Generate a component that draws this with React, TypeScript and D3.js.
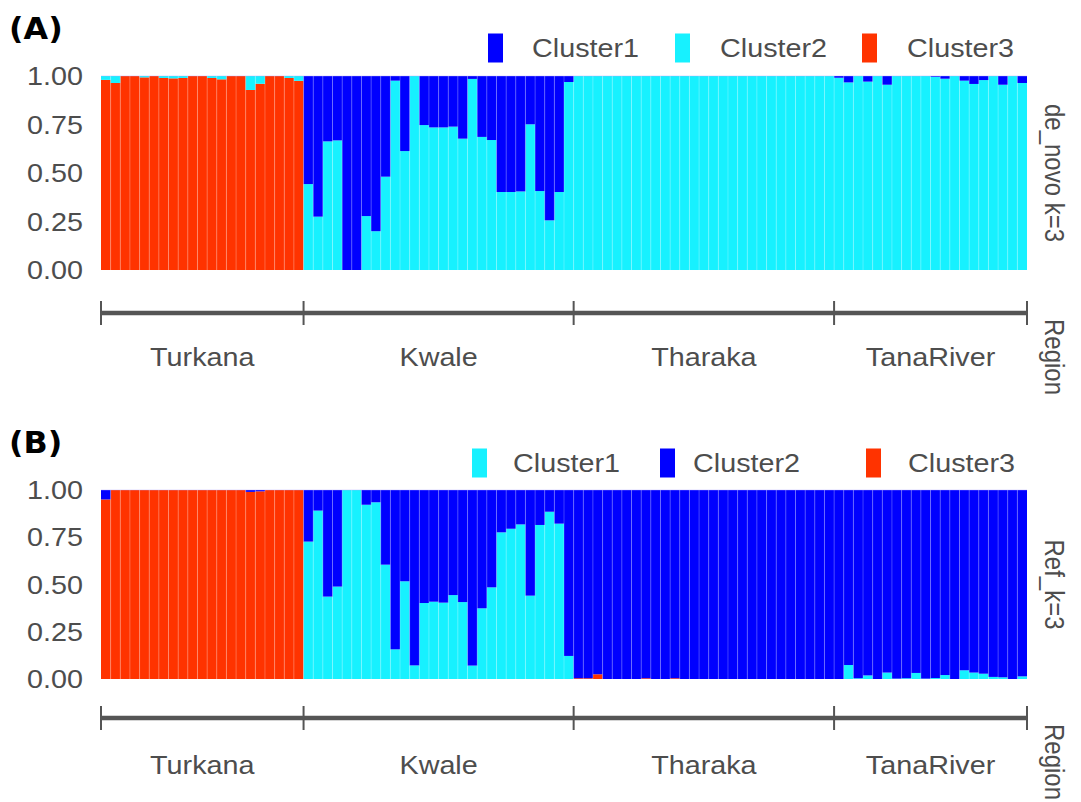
import React from "react";
import * as d3 from "d3";

// ---------- DATA ----------
const regions = ["Turkana", "Kwale", "Tharaka", "TanaRiver"];
const regionSizes = [21, 28, 27, 20];

// Panel A (de_novo k=3): Cluster1 = blue, Cluster2 = cyan, Cluster3 = red
const deNovoCluster1 = [
  // Turkana
  0, 0, 0, 0, 0, 0, 0, 0, 0, 0, 0, 0, 0, 0, 0, 0, 0, 0, 0, 0, 0,
  // Kwale
  0.557, 0.725, 0.337, 0.332, 1, 1, 0.722, 0.8, 0.519, 0.024, 0.387, 0, 0.253, 0.265,
  0.265, 0.261, 0.323, 0.015, 0.314, 0.33, 0.598, 0.598, 0.595, 0.249, 0.593, 0.744, 0.598, 0.031,
  // Tharaka
  0, 0, 0, 0, 0, 0, 0, 0, 0, 0, 0, 0, 0, 0, 0, 0, 0, 0, 0, 0, 0, 0, 0, 0, 0, 0, 0,
  // TanaRiver
  0.009, 0.033, 0, 0.029, 0, 0.045, 0, 0, 0, 0, 0.004, 0.014, 0, 0.024, 0.041, 0.021, 0, 0.045, 0, 0.036,
];
const deNovoCluster2 = [
  0.02, 0.036, 0, 0, 0.007, 0, 0.01, 0.012, 0.01, 0, 0, 0.01, 0.017, 0, 0, 0.072, 0.04, 0, 0, 0.01, 0.025,
  0.443, 0.275, 0.663, 0.668, 0, 0, 0.278, 0.2, 0.481, 0.976, 0.613, 1, 0.747, 0.735,
  0.735, 0.739, 0.677, 0.985, 0.686, 0.67, 0.402, 0.402, 0.405, 0.751, 0.407, 0.256, 0.402, 0.969,
  1, 1, 1, 1, 1, 1, 1, 1, 1, 1, 1, 1, 1, 1, 1, 1, 1, 1, 1, 1, 1, 1, 1, 1, 1, 1, 1,
  0.991, 0.967, 1, 0.971, 1, 0.955, 1, 1, 1, 1, 0.996, 0.986, 1, 0.976, 0.959, 0.979, 1, 0.955, 1, 0.964,
];
const deNovoCluster3 = [
  0.98, 0.964, 1, 1, 0.993, 1, 0.99, 0.988, 0.99, 1, 1, 0.99, 0.983, 1, 1, 0.928, 0.96, 1, 1, 0.99, 0.975,
  0, 0, 0, 0, 0, 0, 0, 0, 0, 0, 0, 0, 0, 0, 0, 0, 0, 0, 0, 0, 0, 0, 0, 0, 0, 0, 0, 0,
  0, 0, 0, 0, 0, 0, 0, 0, 0, 0, 0, 0, 0, 0, 0, 0, 0, 0, 0, 0, 0, 0, 0, 0, 0, 0, 0,
  0, 0, 0, 0, 0, 0, 0, 0, 0, 0, 0, 0, 0, 0, 0, 0, 0, 0, 0, 0,
];

// Panel B (Ref_k=3): Cluster1 = cyan, Cluster2 = blue, Cluster3 = red
const refCluster1 = [
  0, 0, 0, 0, 0, 0, 0, 0, 0, 0, 0, 0, 0, 0, 0, 0, 0, 0, 0, 0, 0,
  0.727, 0.891, 0.436, 0.489, 1, 1, 0.922, 0.935, 0.605, 0.157, 0.517, 0.072, 0.402, 0.409,
  0.404, 0.444, 0.407, 0.071, 0.374, 0.485, 0.776, 0.795, 0.818, 0.441, 0.815, 0.885, 0.822, 0.122,
  0, 0, 0, 0, 0, 0, 0, 0, 0, 0, 0, 0, 0, 0, 0, 0, 0, 0, 0, 0, 0, 0, 0, 0, 0, 0, 0,
  0, 0.074, 0.004, 0.019, 0, 0.034, 0.002, 0.004, 0.032, 0.002, 0.005, 0.021, 0, 0.046, 0.034, 0.028, 0.011, 0.009, 0, 0.014,
];
const refCluster2 = [
  0.05, 0, 0, 0, 0, 0, 0, 0, 0, 0, 0, 0, 0, 0, 0, 0.01, 0.007, 0, 0, 0, 0,
  0.273, 0.109, 0.564, 0.511, 0, 0, 0.078, 0.065, 0.395, 0.843, 0.483, 0.928, 0.598, 0.591,
  0.596, 0.556, 0.593, 0.929, 0.626, 0.515, 0.224, 0.205, 0.182, 0.559, 0.185, 0.115, 0.178, 0.878,
  0.996, 0.996, 0.975, 1, 1, 1, 1, 0.996, 1, 1, 0.996, 1, 1, 1, 1, 1, 1, 1, 1, 1, 1, 1, 1, 1, 1, 1, 1,
  1, 0.926, 0.996, 0.981, 1, 0.966, 0.998, 0.996, 0.968, 0.998, 0.995, 0.979, 1, 0.954, 0.966, 0.972, 0.989, 0.991, 1, 0.986,
];
const refCluster3 = [
  0.95, 1, 1, 1, 1, 1, 1, 1, 1, 1, 1, 1, 1, 1, 1, 0.99, 0.993, 1, 1, 1, 1,
  0, 0, 0, 0, 0, 0, 0, 0, 0, 0, 0, 0, 0, 0, 0, 0, 0, 0, 0, 0, 0, 0, 0, 0, 0, 0, 0, 0,
  0.004, 0.004, 0.025, 0, 0, 0, 0, 0.004, 0, 0, 0.004, 0, 0, 0, 0, 0, 0, 0, 0, 0, 0, 0, 0, 0, 0, 0, 0,
  0, 0, 0, 0, 0, 0, 0, 0, 0, 0, 0, 0, 0, 0, 0, 0, 0, 0, 0, 0,
];

const yTicks = [0, 0.25, 0.5, 0.75, 1];

// ---------- STYLE ----------
const BLUE = "#0000FF";
const CYAN = "#17F1FF";
const RED = "#FF3300";
const GRAY = "#4D4D4D";
const AXIS = "#555555";
const FONT = "'Liberation Sans', Arial, sans-serif";
const SX = 1.15;

const X0 = 101;
const X1 = 1027;

type Panel = {
  tag: string;
  strip: string;
  top: number;
  bottom: number;
  series: { name: string; color: string; values: number[] }[]; // bottom -> top stacking
  legend: { name: string; color: string; sx: number; tx: number }[];
  legendY: number;
  axisY: number;
  labelY: number;
  regionY: number;
  tagY: number;
};

const n = regionSizes.reduce((a, b) => a + b, 0);
const idx = d3.range(n);
const x = d3.scaleBand<number>().domain(idx).range([X0, X1]).padding(0);

const starts: number[] = [];
regionSizes.reduce((acc, s) => {
  starts.push(acc);
  return acc + s;
}, 0);

const T = ({ x, y, children, anchor = "start", size = 25, fill = GRAY, sx = SX, weight = "normal", family = FONT }: any) => (
  <text
    transform={`translate(${x},${y}) scale(${sx},1)`}
    textAnchor={anchor}
    fontSize={size}
    fill={fill}
    fontFamily={family}
    fontWeight={weight}
  >
    {children}
  </text>
);

function PanelView({ p }: { p: Panel }) {
  const y = d3.scaleLinear().domain([0, 1]).range([p.bottom, p.top]);
  const table = idx.map((i) => {
    const row: any = { i };
    p.series.forEach((s) => (row[s.name] = s.values[i]));
    return row;
  });
  const stacked = d3.stack<any>().keys(p.series.map((s) => s.name))(table);
  const bw = x.bandwidth();
  const bounds = [...starts.map((s) => x(s) as number), X1];
  return (
    <g>
      {stacked.map((layer, li) => (
        <g key={li}>
          {layer.map((d, i) => {
            const h = y(d[0]) - y(d[1]);
            if (h <= 0) return null;
            return (
              <rect
                key={i}
                x={x(i)}
                y={y(d[1])}
                width={bw}
                height={h}
                fill={p.series[li].color}
              />
            );
          })}
        </g>
      ))}
      {/* thin separators between samples */}
      {idx.slice(1).map((i) => (
        <line
          key={"s" + i}
          x1={x(i)}
          x2={x(i)}
          y1={p.top}
          y2={p.bottom}
          stroke="#ffffff"
          strokeOpacity={0.3}
          strokeWidth={0.8}
        />
      ))}
      <line x1={X0} x2={X1} y1={p.top} y2={p.top} stroke="#b0a8ff" strokeOpacity={0.5} strokeWidth={0.8} />
      {/* y axis labels */}
      {yTicks.map((t) => (
        <T key={t} x={83} y={y(t) + 9} anchor="end">
          {d3.format(".2f")(t)}
        </T>
      ))}
      {/* tag */}
      <T x={9} y={p.tagY} size={30} sx={1.06} weight="bold" fill="#000" family="'DejaVu Sans', sans-serif">
        ({p.tag})
      </T>
      {/* legend */}
      {p.legend.map((l) => (
        <g key={l.name}>
          <rect x={l.sx} y={p.legendY - 14.5} width={15} height={29} fill={l.color} />
          <T x={l.tx} y={p.legendY + 9}>
            {l.name}
          </T>
        </g>
      ))}
      {/* strip label */}
      <text
        transform={`translate(1055,${(p.top + p.bottom) / 2}) rotate(90) scale(1,${SX})`}
        textAnchor="middle"
        dominantBaseline="central"
        fontSize={24}
        fill={GRAY}
        fontFamily={FONT}
      >
        {p.strip}
      </text>
      {/* region axis */}
      <line x1={X0} x2={X1} y1={p.axisY} y2={p.axisY} stroke={AXIS} strokeWidth={4.5} />
      {bounds.map((b, i) => (
        <line key={"t" + i} x1={b} x2={b} y1={p.axisY - 12} y2={p.axisY + 12} stroke={AXIS} strokeWidth={2} />
      ))}
      {regions.map((r, i) => (
        <T key={r} x={(bounds[i] + bounds[i + 1]) / 2} y={p.labelY} anchor="middle">
          {r}
        </T>
      ))}
      <text
        transform={`translate(1055,${p.regionY}) rotate(90) scale(1,${SX})`}
        textAnchor="middle"
        dominantBaseline="central"
        fontSize={24}
        fill={GRAY}
        fontFamily={FONT}
      >
        Region
      </text>
    </g>
  );
}

const panels: Panel[] = [
  {
    tag: "A",
    strip: "de_novo k=3",
    top: 76,
    bottom: 270,
    series: [
      { name: "Cluster3", color: RED, values: deNovoCluster3 },
      { name: "Cluster2", color: CYAN, values: deNovoCluster2 },
      { name: "Cluster1", color: BLUE, values: deNovoCluster1 },
    ],
    legend: [
      { name: "Cluster1", color: BLUE, sx: 488, tx: 532 },
      { name: "Cluster2", color: CYAN, sx: 675, tx: 720 },
      { name: "Cluster3", color: RED, sx: 862, tx: 907 },
    ],
    legendY: 48,
    axisY: 313,
    labelY: 366,
    regionY: 357,
    tagY: 39,
  },
  {
    tag: "B",
    strip: "Ref_k=3",
    top: 490,
    bottom: 679,
    series: [
      { name: "Cluster3", color: RED, values: refCluster3 },
      { name: "Cluster1", color: CYAN, values: refCluster1 },
      { name: "Cluster2", color: BLUE, values: refCluster2 },
    ],
    legend: [
      { name: "Cluster1", color: CYAN, sx: 472, tx: 513 },
      { name: "Cluster2", color: BLUE, sx: 660, tx: 693 },
      { name: "Cluster3", color: RED, sx: 866, tx: 908 },
    ],
    legendY: 463,
    axisY: 718,
    labelY: 774,
    regionY: 762,
    tagY: 453,
  },
];

export default function App() {
  return (
    <svg
      width={1081}
      height={802}
      style={{ position: "absolute", left: 0, top: 0, background: "#fff" }}
    >
      <rect width={1081} height={802} fill="#fff" />
      {panels.map((p) => (
        <PanelView key={p.tag} p={p} />
      ))}
    </svg>
  );
}
